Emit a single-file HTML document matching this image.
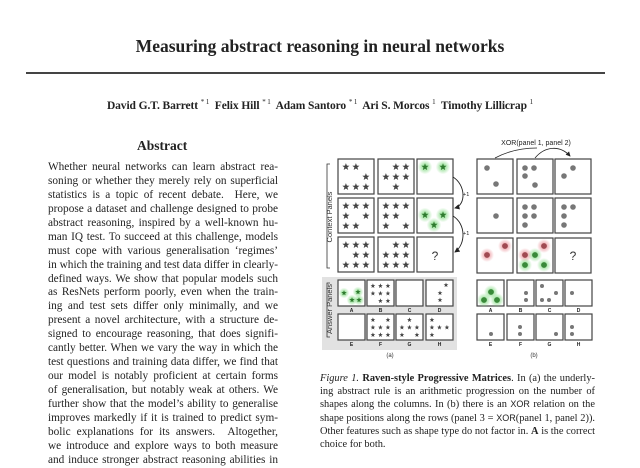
<!DOCTYPE html>
<html><head><meta charset="utf-8">
<style>
body{margin:0;width:640px;height:458px;background:#fff;overflow:hidden;position:relative;font-family:"Liberation Serif",serif;color:#222}
.a{position:absolute;white-space:nowrap}
.col,.cap{white-space:normal}
.col div{height:13.95px;line-height:13.95px;text-align:justify;text-align-last:justify;white-space:normal;overflow:visible}
.cap div{height:13.2px;line-height:13.2px;text-align:justify;text-align-last:justify;white-space:normal}
sup{font-size:7px;font-weight:normal}
</style></head><body>
<div class="a" style="left:0;width:640px;top:36px;text-align:center;font-size:17.5px;font-weight:bold">Measuring abstract reasoning in neural networks</div>
<div class="a" style="left:26px;top:72px;width:579px;height:2px;background:#444"></div>
<div class="a" style="left:0;width:640px;top:98px;text-align:center;font-size:11.5px;font-weight:bold;letter-spacing:-0.1px">David G.T. Barrett <sup>* 1</sup>&nbsp; Felix Hill <sup>* 1</sup>&nbsp; Adam Santoro <sup>* 1</sup>&nbsp; Ari S. Morcos <sup>1</sup>&nbsp; Timothy Lillicrap <sup>1</sup></div>
<div class="a" style="left:137px;top:138px;font-size:13.5px;font-weight:bold">Abstract</div>
<div class="a col" style="left:48px;top:161px;width:230px;font-size:11.3px">
<div>Whether neural networks can learn abstract rea-</div>
<div>soning or whether they merely rely on superficial</div>
<div>statistics is a topic of recent debate. &nbsp;Here, we</div>
<div>propose a dataset and challenge designed to probe</div>
<div>abstract reasoning, inspired by a well-known hu-</div>
<div>man IQ test. To succeed at this challenge, models</div>
<div>must cope with various generalisation ‘regimes’</div>
<div>in which the training and test data differ in clearly-</div>
<div>defined ways. We show that popular models such</div>
<div>as ResNets perform poorly, even when the train-</div>
<div>ing and test sets differ only minimally, and we</div>
<div>present a novel architecture, with a structure de-</div>
<div>signed to encourage reasoning, that does signifi-</div>
<div>cantly better. When we vary the way in which the</div>
<div>test questions and training data differ, we find that</div>
<div>our model is notably proficient at certain forms</div>
<div>of generalisation, but notably weak at others. We</div>
<div>further show that the model’s ability to generalise</div>
<div>improves markedly if it is trained to predict sym-</div>
<div>bolic explanations for its answers. &nbsp;Altogether,</div>
<div>we introduce and explore ways to both measure</div>
<div>and induce stronger abstract reasoning abilities in</div>
</div>
<div class="a cap" style="left:320px;top:372px;width:275px;font-size:10.4px">
<div><i>Figure 1.</i> <b>Raven-style Progressive Matrices</b>. In (a) the underly-</div>
<div>ing abstract rule is an arithmetic progression on the number of</div>
<div>shapes along the columns. In (b) there is an <span style="font-family:'Liberation Sans',sans-serif;font-size:9px">XOR</span> relation on the</div>
<div>shape positions along the rows (panel 3 = <span style="font-family:'Liberation Sans',sans-serif;font-size:9px">XOR</span>(panel 1, panel 2)).</div>
<div>Other features such as shape type do not factor in. <b>A</b> is the correct</div>
<div style="text-align-last:left">choice for both.</div>
</div>
<svg id="fig" class="a" style="left:0;top:0" width="640" height="458" xmlns="http://www.w3.org/2000/svg" font-family="Liberation Sans, sans-serif">
<defs>
<radialGradient id="gg"><stop offset="0" stop-color="#7cd87c"/><stop offset="1" stop-color="#7cd87c" stop-opacity="0"/></radialGradient>
<radialGradient id="rg"><stop offset="0" stop-color="#e8878f"/><stop offset="1" stop-color="#e8878f" stop-opacity="0"/></radialGradient>
<marker id="ar" markerWidth="6" markerHeight="6" refX="5" refY="3" orient="auto"><path d="M0,0L6,3L0,6z" fill="#222"/></marker>
</defs>
<rect x="322" y="277" width="135" height="73" fill="#e2e2e2"/>
<g id="g"></g>
<text x="332" y="217" font-size="7.5" fill="#333" text-anchor="middle" transform="rotate(-90 332 217)">Context Panels</text>
<path d="M330,164 h-3 v104 h3" fill="none" stroke="#333" stroke-width="0.8"/>
<text x="332" y="309" font-size="7.5" fill="#333" text-anchor="middle" transform="rotate(-90 332 309)">Answer Panels</text>
<path d="M330,283 h-3 v54 h3" fill="none" stroke="#333" stroke-width="0.8"/>
<path d="M453,177 C466,185 466,205 455,208" fill="none" stroke="#222" stroke-width="0.9" marker-end="url(#ar)"/>
<path d="M453,216 C466,224 466,244 455,252" fill="none" stroke="#222" stroke-width="0.9" marker-end="url(#ar)"/>
<g id="lbl"></g>
<text x="390" y="357" font-size="6" fill="#333" text-anchor="middle">(a)</text>
<text x="534" y="357" font-size="6" fill="#333" text-anchor="middle">(b)</text>
<text x="536" y="145" font-size="7" fill="#222" text-anchor="middle">XOR(panel 1, panel 2)</text>
<path d="M495,158 C510,150 525,148 537,148" fill="none" stroke="#222" stroke-width="0.8"/>
<path d="M535,158 C545,146 560,145 570,156" fill="none" stroke="#222" stroke-width="0.8" marker-end="url(#ar)"/>
</svg>
<script>
var g=document.getElementById('g'),NS='http://www.w3.org/2000/svg';
function el(t,a){var e=document.createElementNS(NS,t);for(var k in a)e.setAttribute(k,a[k]);g.appendChild(e);return e;}
function box(x,y,w,h){el('rect',{x:x,y:y,width:w,height:h,fill:'#fff',stroke:'#444','stroke-width':1.2});}
function star(cx,cy,r,col){var p=[];for(var i=0;i<10;i++){var rr=i%2?r*0.42:r;var a=-Math.PI/2+i*Math.PI/5;p.push((cx+rr*Math.cos(a)).toFixed(1)+','+(cy+rr*Math.sin(a)).toFixed(1));}el('polygon',{points:p.join(' '),fill:col});}
function gstar(cx,cy,r){el('circle',{cx:cx,cy:cy,r:r*1.9,fill:'url(#gg)'});star(cx,cy,r,'#2f7a2f');}
function dot(cx,cy,r,col){el('circle',{cx:cx,cy:cy,r:r,fill:col||'#777'});}
function grid(x,y,w,pat,r){var s=w/3.6;pat.forEach(function(row,ri){for(var c=0;c<3;c++)if(row[c]=='x')star(x+w*0.22+c*s,y+w*0.22+ri*s,r,'#444');});}
var cx=[338,378,417],ry=[159,198,237];
var pats=[[['xx.','..x','xxx'],['.xx','xxx','.x.'],null],[['xxx','x.x','xx.'],['xxx','xx.','x.x'],null],[['xxx','.xx','xxx'],['.xx','xxx','xxx'],null]];
for(var r=0;r<3;r++)for(var c=0;c<3;c++){box(cx[c],ry[r],36,35);if(pats[r][c])grid(cx[c],ry[r],36,pats[r][c],3.8);}
gstar(425,167,3.8);gstar(443,167,3.8);
gstar(425,215,3.8);gstar(443,215,3.8);gstar(434,225,3.8);
var t=el('text',{x:435,y:260,'font-size':12,fill:'#333','text-anchor':'middle'});t.textContent='?';
var p1=el('text',{x:463,y:196,'font-size':5.5,fill:'#222'});p1.textContent='+1';
var p2=el('text',{x:463,y:235,'font-size':5.5,fill:'#222'});p2.textContent='+1';
var ax=[338,367,396,426],ay=[280,314],L='ABCDEFGH';
for(var r=0;r<2;r++)for(var c=0;c<4;c++){box(ax[c],ay[r],27,26);var tt=el('text',{x:ax[c]+13.5,y:ay[r]+32,'font-size':5,fill:'#222','text-anchor':'middle','font-weight':'bold'});tt.textContent=L[r*4+c];}
gstar(344,293,2.8);gstar(358,292,2.8);gstar(352,300,2.8);gstar(359,300,2.8);
grid(367,280,27,['xxx','xxx','.xx'],2.5);
star(446,285,2.5,'#444');star(440,293,2.5,'#444');star(440,300,2.5,'#444');
grid(367,314,27,['x.x','xxx','xxx'],2.5);
grid(396,314,27,['.x.','xxx','x.x'],2.5);
grid(426,314,27,['x..','xxx','x..'],2.5);
var bx=[477,517,555],by=[159,198,238];
for(var r=0;r<3;r++)for(var c=0;c<3;c++)box(bx[c],by[r],36,35);
dot(487,168,2.8);dot(496,184,2.8);
dot(525,168,2.8);dot(534,168,2.8);dot(525,176,2.8);dot(535,185,2.8);
dot(573,168,2.8);dot(564,176,2.8);
dot(496,216,2.8);
dot(525,207,2.8);dot(534,207,2.8);dot(525,216,2.8);dot(534,216,2.8);dot(525,225,2.8);
dot(564,207,2.8);dot(573,207,2.8);dot(564,216,2.8);dot(564,225,2.8);
function gl(x,y,c,glow){el('circle',{cx:x,cy:y,r:7,fill:'url(#'+glow+')'});dot(x,y,2.9,c);}
gl(487,255,'#a04a52','rg');gl(505,246,'#a04a52','rg');
gl(525,255,'#a04a52','rg');gl(544,246,'#a04a52','rg');gl(535,255,'#3a8a3a','gg');gl(525,265,'#3a8a3a','gg');gl(544,265,'#3a8a3a','gg');
var t2=el('text',{x:573,y:260,'font-size':12,fill:'#333','text-anchor':'middle'});t2.textContent='?';
var qx=[477,507,536,565],qy=[280,314];
for(var r=0;r<2;r++)for(var c=0;c<4;c++){box(qx[c],qy[r],27,26);var tt=el('text',{x:qx[c]+13.5,y:qy[r]+32,'font-size':5,fill:'#222','text-anchor':'middle','font-weight':'bold'});tt.textContent=L[r*4+c];}
gl(491,292,'#3a8a3a','gg');gl(484,300,'#3a8a3a','gg');gl(497,300,'#3a8a3a','gg');
dot(526,293,2);dot(526,300,2);
dot(542,286,2);dot(556,293,2);dot(542,300,2);dot(549,300,2);
dot(572,293,2);
dot(491,334,2);
dot(520,327,2);dot(520,334,2);
dot(556,334,2);
dot(572,327,2);dot(572,334,2);
</script>
</body></html>
